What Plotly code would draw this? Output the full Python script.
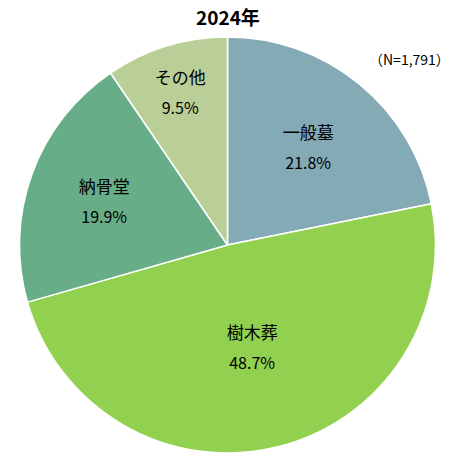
import plotly.graph_objects as go

# data
labels = ["一般墓", "樹木葬", "納骨堂", "その他"]
shares = [21.8, 48.7, 19.9, 9.5]
colors = ["#83AAB5", "#92D050", "#67AD87", "#BACF97"]

W, H = 458, 459

fig = go.Figure(go.Pie(
    labels=labels,
    values=shares,
    sort=False,
    direction="clockwise",
    rotation=0,
    marker=dict(colors=colors, line=dict(color="white", width=1.5)),
    # big base size only sets the line spacing, the spans set the glyph size
    texttemplate="<span style='font-size:17px'>%{label}</span><br>"
                 "<span style='font-size:16px'>%{value:.1f}%</span>",
    textposition="inside",
    insidetextorientation="horizontal",
    textfont=dict(family="Noto Sans CJK JP", size=23, color="black"),
    domain=dict(x=[19 / W, 436 / W], y=[1 - 453 / H, 1 - 37 / H]),
    showlegend=False,
    hoverinfo="label+percent",
))

fig.update_layout(
    width=W, height=H,
    margin=dict(l=0, r=0, t=0, b=0),
    paper_bgcolor="white",
    uniformtext=dict(minsize=23, mode="show"),
    annotations=[
        dict(text="<b>2024年</b>", x=228 / W, y=1 - 17 / H,
             xref="paper", yref="paper", yanchor="middle", showarrow=False,
             font=dict(family="Noto Sans CJK JP", size=19, color="black")),
        dict(text="（N=1,791）", x=452 / W, y=1 - 59 / H,
             xref="paper", yref="paper", xanchor="right", yanchor="middle",
             showarrow=False,
             font=dict(family="Noto Sans CJK JP", size=14, color="black")),
    ],
)

# drop the default 8px body margin so the figure sits at the window corner
fig.write_html("out.html", config={"displayModeBar": False},
               post_script="document.body.style.margin='0';")
